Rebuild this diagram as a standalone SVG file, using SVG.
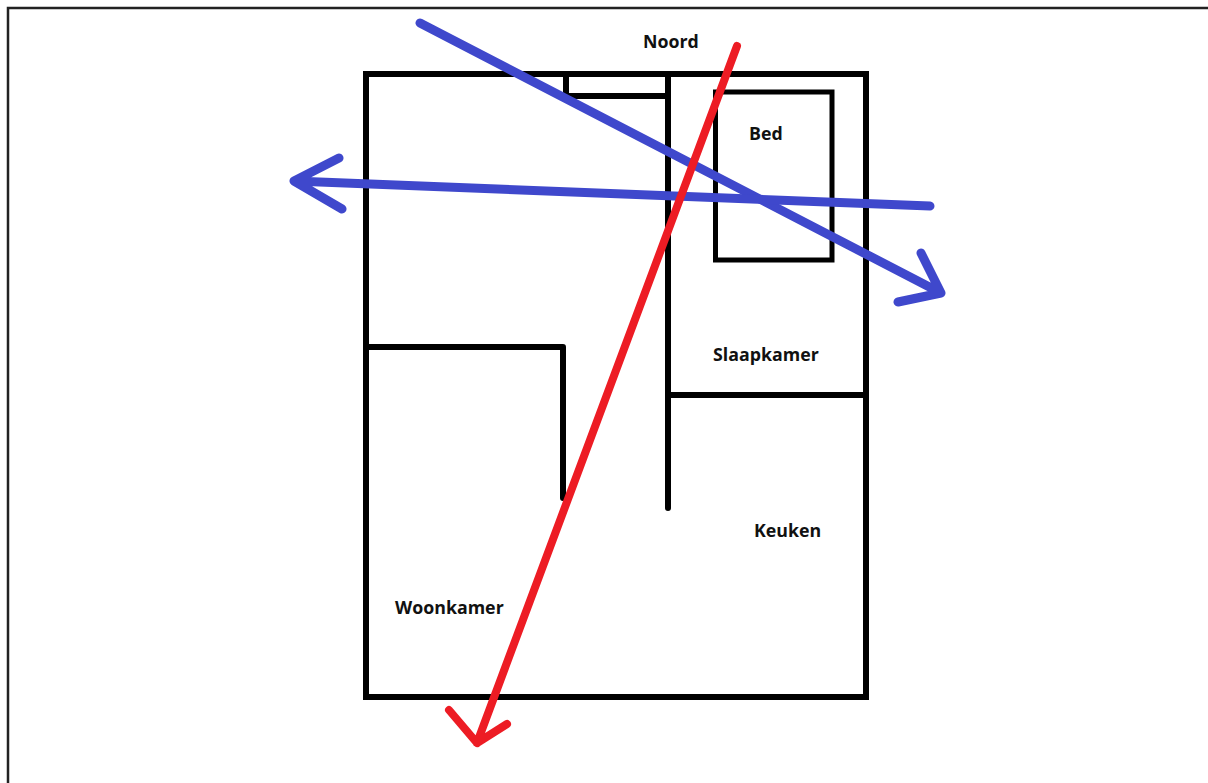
<svg xmlns="http://www.w3.org/2000/svg" width="1208" height="783" viewBox="0 0 1208 783">
<style>
.wall{fill:none;stroke:#000;stroke-width:6;stroke-linecap:square}
.blue{fill:none;stroke:#3f48cc;stroke-width:9;stroke-linecap:round;stroke-linejoin:round}
.red{fill:none;stroke:#ed1c24;stroke-width:8;stroke-linecap:round;stroke-linejoin:round}
.lbl{font-family:"Open Sans","Noto Sans",sans-serif;font-weight:700;font-size:17.8px;fill:#111}
</style>
<rect x="0" y="0" width="1208" height="783" fill="#fff"/>
<path d="M8 783 V8 H1208" fill="none" stroke="#222" stroke-width="2.5"/>
<g id="plan">
<rect class="wall" x="366" y="74" width="500" height="623"/>
<path class="wall" d="M566 74 V96 H668"/>
<path class="wall" d="M668 74 V508" style="stroke-linecap:round"/>
<path class="wall" d="M668 395 H866"/>
<path class="wall" d="M366 347 H563 V498" style="stroke-linecap:round;stroke-linejoin:round"/>
</g>
<g id="bed">
<rect x="715.5" y="92" width="116.5" height="168" fill="none" stroke="#000" stroke-width="5"/>
<text class="lbl" x="749" y="140">Bed</text>
</g>
<g id="labels">
<text class="lbl" x="643" y="48">Noord</text>
<text class="lbl" x="713" y="361">Slaapkamer</text>
<text class="lbl" x="754" y="537">Keuken</text>
<text class="lbl" x="395" y="614">Woonkamer</text>
</g>
<g id="connectors">
<path class="blue" d="M420 23 L941 293 M921 253 L941 293 L898 302"/>
<path class="blue" d="M930 206 L294 181 M339 158 L294 181 L342 209"/>
<path class="red" d="M737 46 L477 743 M449 710 L477 743 L507 724"/>
</g>
</svg>
